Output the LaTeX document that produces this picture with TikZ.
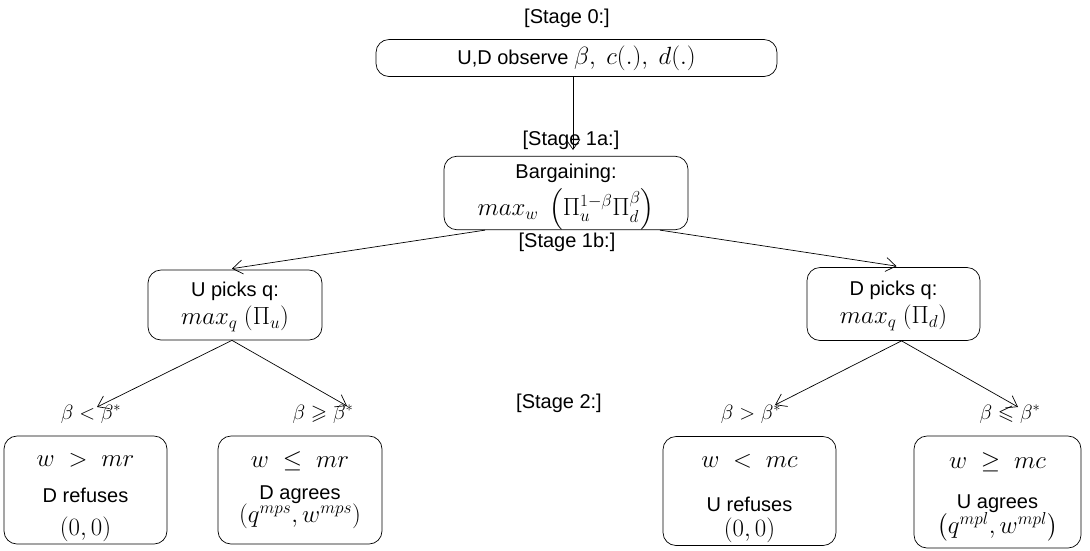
\documentclass[tikz,border=0pt]{standalone}
\usepackage{amssymb}
\usepackage{fontspec}
\setmainfont{Liberation Sans}
\setsansfont{Liberation Sans}
\usetikzlibrary{arrows.meta,calc}
\newcommand{\mth}[1]{{\fontsize{23}{26}\selectfont$#1$}}
\newcommand{\mths}[1]{{\fontsize{21}{24}\selectfont$#1$}}
\newcommand{\topstrut}[1]{\rule{0pt}{#1}}
\begin{document}
\begin{tikzpicture}[x=1pt,y=-1pt,
  every node/.style={font=\fontsize{20}{24}\selectfont},
  box/.style={draw, rounded corners=13pt, line width=0.7pt, inner sep=0pt, align=center},
  lab/.style={inner sep=0pt},
  arr/.style={-{Straight Barb[length=10pt,width=14pt]}, line width=0.7pt}]
\useasboundingbox (0,0) rectangle (1090,550);

\node[lab] (s0) at (567,18) {[Stage 0:]};
\node[box, minimum width=401pt, minimum height=37pt] (b0) at (576.5,58) {U,D observe \mth{\beta,\ c(.),\ d(.)}};

\node[lab] (s1a) at (571,140) {[Stage 1a:]};
\coordinate (t1a) at (573,150);
\node[box, minimum width=244pt, minimum height=72pt] (b1) at (566,193)
  {\topstrut{22pt}Bargaining:\\[5pt] \mth{max_w\ \left(\Pi_u^{1-\beta}\Pi_d^{\beta}\right)}};
\node[lab] (s1b) at (567,242) {[Stage 1b:]};

\node[box, minimum width=174pt, minimum height=70pt] (U) at (235,305)
  {\topstrut{19pt}U picks q:\\[4pt] \mth{max_q\ (\Pi_u)}};
\node[box, minimum width=173pt, minimum height=73pt] (D) at (893.5,304)
  {\topstrut{19pt}D picks q:\\[4pt] \mth{max_q\ (\Pi_d)}};

\node[lab] (s2) at (559,403) {[Stage 2:]};

\node[lab] (l1) at (91,414) {\mths{\beta < \beta^{*}}};
\node[lab] (l2) at (323,414) {\mths{\beta \geqslant \beta^{*}}};
\node[lab] (l3) at (751,414) {\mths{\beta > \beta^{*}}};
\node[lab] (l4) at (1010,414) {\mths{\beta \leqslant \beta^{*}}};

\coordinate (t1) at (97,407);
\coordinate (t2) at (347,406);
\coordinate (t3) at (775,405);
\coordinate (t4) at (1018,407);

\node[box, minimum width=163pt, minimum height=108pt] (A) at (85.5,490)
  {\topstrut{28pt}\mth{w\;>\;mr}\\[12pt] D refuses\\[9pt] \mth{(0,0)}};
\node[box, minimum width=164pt, minimum height=108pt] (B) at (300,490)
  {\mth{w\;\leq\;mr}\\[8pt] D agrees\\[-1pt] \mth{\left(q^{mps},w^{mps}\right)}};
\node[box, minimum width=173pt, minimum height=109pt] (C) at (749.5,491)
  {\topstrut{28pt}\mth{w\;<\;mc}\\[20pt] U refuses\\[1pt] \mth{(0,0)}};
\node[box, minimum width=167pt, minimum height=112pt] (Dd) at (997.5,492)
  {\topstrut{26pt}\mth{w\;\geq\;mc}\\[16pt] U agrees\\[-1pt] \mth{\left(q^{mpl},w^{mpl}\right)}};

\draw[arr] (b0.south -| t1a) -- (t1a);
\draw[arr] ($(b1.south)+(-81,0)$) -- ($(U.north)+(-3,-1)$);
\draw[arr] ($(b1.south)+(94,0)$) -- ($(D.north)+(3,-1)$);
\draw[arr] ($(U.south)+(-3,0)$) -- (t1);
\draw[arr] ($(U.south)+(-3,0)$) -- (t2);
\draw[arr] ($(D.south)+(8,0)$) -- (t3);
\draw[arr] ($(D.south)+(8,0)$) -- (t4);
\end{tikzpicture}
\end{document}
